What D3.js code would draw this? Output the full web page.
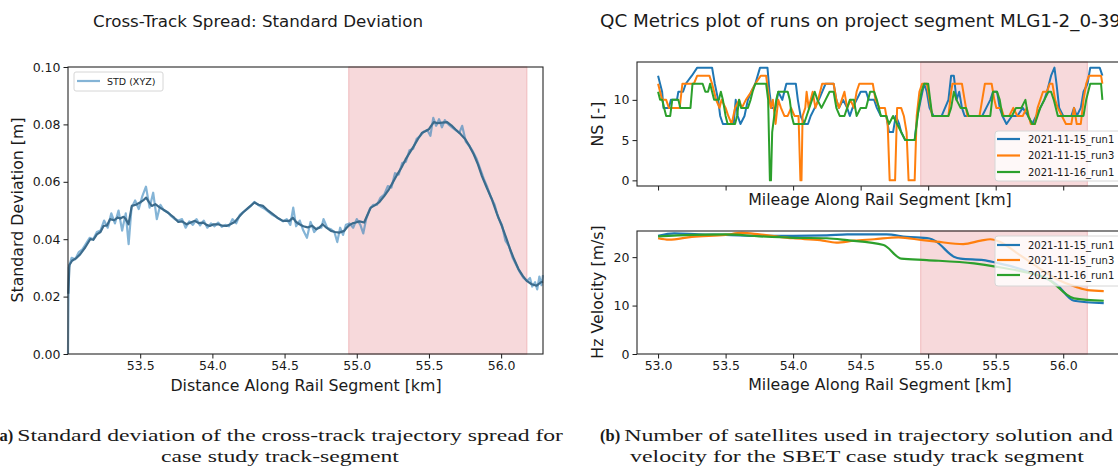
<!DOCTYPE html>
<html><head><meta charset="utf-8">
<script src="https://cdn.jsdelivr.net/npm/d3@7"></script>
<style>
body{margin:0;background:#fff;overflow:hidden}
svg{display:block}
text{fill:#1a1a1a}
text.sans{font-family:"DejaVu Sans",sans-serif}
text.serif{font-family:"Liberation Serif","DejaVu Serif",serif}
</style></head>
<body><svg id="c" width="1118" height="470"></svg>
<script>
// ---------------- DATA ----------------
// Left: cross-track STD (raw, light) [km, m]
const stdRaw = [[53.000,0.000],[53.005,0.030],[53.025,0.0335],[53.050,0.0330],[53.075,0.0355],[53.100,0.0365],[53.125,0.0385],[53.150,0.0405],[53.175,0.0400],[53.200,0.0425],[53.225,0.0430],[53.250,0.0465],[53.275,0.0440],[53.300,0.0490],[53.325,0.0455],[53.350,0.0500],[53.375,0.0430],[53.400,0.0490],[53.420,0.0383],[53.440,0.0510],[53.465,0.0535],[53.490,0.0505],[53.515,0.0550],[53.540,0.0583],[53.565,0.0510],[53.590,0.0562],[53.615,0.0470],[53.640,0.0520],[53.665,0.0500],[53.690,0.0495],[53.715,0.0480],[53.740,0.0470],[53.765,0.0465],[53.790,0.0470],[53.815,0.0440],[53.840,0.0462],[53.865,0.0450],[53.890,0.0470],[53.915,0.0448],[53.940,0.0465],[53.965,0.0440],[53.990,0.0455],[54.015,0.0445],[54.040,0.0458],[54.065,0.0443],[54.090,0.0450],[54.115,0.0445],[54.140,0.0470],[54.165,0.0455],[54.190,0.0485],[54.215,0.0495],[54.240,0.0505],[54.265,0.0515],[54.290,0.0530],[54.315,0.0520],[54.340,0.0512],[54.365,0.0505],[54.390,0.0495],[54.415,0.0485],[54.440,0.0478],[54.465,0.0470],[54.490,0.0462],[54.515,0.0470],[54.540,0.0450],[54.560,0.0510],[54.580,0.0445],[54.605,0.0465],[54.630,0.0430],[54.655,0.0405],[54.680,0.0460],[54.705,0.0425],[54.730,0.0440],[54.755,0.0440],[54.770,0.0470],[54.795,0.0440],[54.820,0.0435],[54.845,0.0425],[54.865,0.0390],[54.885,0.0440],[54.905,0.0415],[54.925,0.0450],[54.950,0.0455],[54.975,0.0440],[55.000,0.0470],[55.025,0.0450],[55.045,0.0420],[55.065,0.0470],[55.090,0.0505],[55.115,0.0520],[55.140,0.0520],[55.165,0.0545],[55.190,0.0555],[55.215,0.0585],[55.240,0.0580],[55.265,0.0630],[55.290,0.0625],[55.315,0.0665],[55.340,0.0670],[55.365,0.0710],[55.390,0.0715],[55.415,0.0750],[55.440,0.0760],[55.465,0.0775],[55.490,0.0780],[55.510,0.0760],[55.530,0.0823],[55.550,0.0795],[55.570,0.0818],[55.590,0.0790],[55.610,0.0815],[55.635,0.0800],[55.660,0.0790],[55.685,0.0780],[55.710,0.0770],[55.730,0.0795],[55.755,0.0740],[55.780,0.0725],[55.805,0.0705],[55.830,0.0680],[55.855,0.0645],[55.880,0.0610],[55.905,0.0580],[55.930,0.0545],[55.955,0.0520],[55.980,0.0475],[56.005,0.0450],[56.030,0.0395],[56.055,0.0375],[56.080,0.0335],[56.105,0.0310],[56.130,0.0285],[56.155,0.0265],[56.180,0.0255],[56.200,0.0265],[56.215,0.0235],[56.235,0.0250],[56.250,0.0225],[56.265,0.0270],[56.280,0.0240],[56.290,0.0275]];
// Left: smoothed STD (dark) [km, m]
const stdSmooth = [[53.002,0.0210],[53.010,0.0310],[53.028,0.0325],[53.060,0.0335],[53.085,0.0348],[53.120,0.0372],[53.154,0.0400],[53.175,0.0398],[53.200,0.0417],[53.225,0.0425],[53.246,0.0446],[53.270,0.0448],[53.292,0.0470],[53.320,0.0466],[53.345,0.0476],[53.361,0.0472],[53.385,0.0478],[53.400,0.0470],[53.419,0.0452],[53.442,0.0516],[53.470,0.0520],[53.499,0.0528],[53.520,0.0535],[53.541,0.0545],[53.560,0.0530],[53.580,0.0516],[53.605,0.0522],[53.637,0.0510],[53.670,0.0500],[53.706,0.0487],[53.735,0.0475],[53.764,0.0460],[53.790,0.0462],[53.821,0.0452],[53.850,0.0458],[53.879,0.0464],[53.905,0.0456],[53.936,0.0458],[53.960,0.0450],[53.982,0.0446],[54.010,0.0452],[54.040,0.0452],[54.070,0.0447],[54.097,0.0446],[54.125,0.0452],[54.155,0.0460],[54.185,0.0478],[54.212,0.0493],[54.250,0.0510],[54.292,0.0528],[54.320,0.0520],[54.350,0.0516],[54.385,0.0500],[54.419,0.0487],[54.450,0.0475],[54.488,0.0464],[54.534,0.0464],[54.557,0.0475],[54.580,0.0460],[54.603,0.0452],[54.630,0.0445],[54.660,0.0441],[54.690,0.0447],[54.718,0.0435],[54.740,0.0440],[54.763,0.0452],[54.790,0.0440],[54.821,0.0429],[54.850,0.0425],[54.879,0.0423],[54.913,0.0429],[54.930,0.0440],[54.948,0.0449],[54.970,0.0455],[54.993,0.0458],[55.020,0.0462],[55.051,0.0458],[55.070,0.0480],[55.097,0.0510],[55.125,0.0518],[55.154,0.0528],[55.190,0.0550],[55.223,0.0574],[55.250,0.0598],[55.281,0.0626],[55.310,0.0650],[55.338,0.0678],[55.365,0.0700],[55.396,0.0725],[55.425,0.0750],[55.453,0.0771],[55.475,0.0776],[55.499,0.0783],[55.515,0.0795],[55.534,0.0808],[55.560,0.0804],[55.591,0.0806],[55.626,0.0808],[55.655,0.0797],[55.683,0.0783],[55.720,0.0766],[55.752,0.0748],[55.780,0.0725],[55.810,0.0696],[55.840,0.0660],[55.867,0.0620],[55.900,0.0580],[55.936,0.0539],[55.970,0.0490],[56.005,0.0446],[56.035,0.0405],[56.062,0.0365],[56.090,0.0330],[56.120,0.0296],[56.150,0.0272],[56.177,0.0255],[56.212,0.0243],[56.246,0.0238],[56.276,0.0250],[56.290,0.0252]];
const stdXTicks = [53.5,54.0,54.5,55.0,55.5,56.0];
const stdYTicks = [0.00,0.02,0.04,0.06,0.08,0.10];
const shadeKm = [54.945,56.178];

// Right top: number of satellites [km, NS]
const nsRun1 = [[53.000,13],[53.030,11],[53.040,9],[53.080,9],[53.095,10],[53.140,10],[53.150,11],[53.185,11],[53.205,12],[53.250,13],[53.290,14],[53.400,14],[53.420,12],[53.445,10],[53.460,8],[53.480,7],[53.560,7],[53.575,10],[53.590,8],[53.610,7],[53.640,8],[53.665,10],[53.690,11],[53.720,12],[53.755,14],[53.810,14],[53.825,11],[53.840,9],[53.870,9],[53.890,11],[53.920,10],[53.950,12],[54.020,12],[54.035,10],[54.055,8],[54.085,7],[54.110,7],[54.130,8],[54.160,9],[54.190,10],[54.215,11],[54.240,12],[54.300,12],[54.320,10],[54.340,9],[54.370,10],[54.400,9],[54.420,8],[54.440,9],[54.470,10],[54.500,11],[54.540,11],[54.560,10],[54.600,10],[54.620,9],[54.650,8],[54.690,8],[54.710,6],[54.740,6],[54.760,8],[54.785,7],[54.800,6],[54.830,5],[54.900,5],[54.920,8],[54.945,10],[54.970,12],[54.990,11],[55.010,9],[55.040,8],[55.100,8],[55.150,10],[55.170,13],[55.190,13],[55.210,10],[55.230,11],[55.250,9],[55.270,8],[55.400,8],[55.430,9],[55.460,10],[55.480,11],[55.510,11],[55.530,9],[55.550,8],[55.580,7],[55.620,8],[55.660,8],[55.700,9],[55.740,8],[55.770,7],[55.800,8],[55.830,9],[55.860,10],[55.880,11],[55.910,13],[55.935,14],[55.950,12],[55.970,9],[56.000,8],[56.060,8],[56.080,9],[56.100,8],[56.130,9],[56.150,11],[56.180,12],[56.200,14],[56.270,14],[56.290,13]];
const nsRun3 = [[53.000,12],[53.015,11],[53.030,10],[53.060,10],[53.080,9],[53.160,9],[53.180,12],[53.265,12],[53.290,13],[53.380,13],[53.400,12],[53.430,10],[53.455,9],[53.470,10],[53.500,9],[53.520,8],[53.545,7],[53.570,9],[53.600,10],[53.620,9],[53.650,10],[53.690,11],[53.720,12],[53.760,13],[53.800,13],[53.815,11],[53.835,9],[53.850,10],[53.870,7],[53.890,10],[53.910,9],[53.935,8],[53.960,8],[53.985,9],[54.010,8],[54.040,8],[54.054,0],[54.062,0],[54.070,8],[54.090,9],[54.100,11],[54.115,9],[54.130,10],[54.145,11],[54.165,9],[54.185,10],[54.215,12],[54.300,12],[54.320,10],[54.340,9],[54.360,10],[54.380,11],[54.400,9],[54.425,10],[54.450,9],[54.470,11],[54.490,12],[54.590,12],[54.610,10],[54.640,9],[54.680,9],[54.700,7],[54.715,0],[54.755,0],[54.770,9],[54.800,9],[54.820,8],[54.840,6],[54.855,0],[54.900,0],[54.915,8],[54.935,11],[54.955,12],[54.990,12],[55.010,10],[55.030,8],[55.150,8],[55.170,11],[55.180,12],[55.250,12],[55.270,10],[55.290,8],[55.380,8],[55.400,10],[55.420,12],[55.470,12],[55.490,10],[55.505,9],[55.540,9],[55.560,8],[55.600,8],[55.630,9],[55.660,8],[55.700,8],[55.730,9],[55.760,7],[55.790,7],[55.810,9],[55.830,10],[55.850,11],[55.880,11],[55.900,12],[55.920,12],[55.940,10],[55.960,9],[55.990,8],[56.020,7],[56.060,7],[56.080,9],[56.100,7],[56.130,7],[56.150,10],[56.170,12],[56.190,13],[56.280,13],[56.290,12]];
const nsRun16 = [[53.000,11],[53.015,10],[53.030,10],[53.045,9],[53.060,8],[53.090,8],[53.105,10],[53.150,10],[53.165,9],[53.240,9],[53.255,12],[53.330,12],[53.350,11],[53.370,11],[53.385,12],[53.400,11],[53.415,10],[53.450,10],[53.465,11],[53.480,10],[53.500,8],[53.515,7],[53.570,7],[53.585,8],[53.600,10],[53.615,9],[53.665,9],[53.685,10],[53.700,11],[53.720,12],[53.800,12],[53.815,10],[53.828,0],[53.836,0],[53.845,6],[53.860,8],[53.875,10],[53.890,11],[53.960,11],[53.975,10],[53.990,8],[54.005,7],[54.080,7],[54.100,8],[54.120,9],[54.140,10],[54.160,11],[54.180,10],[54.210,9],[54.240,10],[54.270,11],[54.300,11],[54.320,9],[54.345,8],[54.380,8],[54.400,9],[54.420,10],[54.450,10],[54.470,8],[54.500,9],[54.540,9],[54.570,11],[54.600,11],[54.620,10],[54.650,8],[54.690,8],[54.710,7],[54.740,8],[54.770,7],[54.800,6],[54.830,5],[54.900,5],[54.930,9],[54.950,11],[54.970,12],[55.000,12],[55.015,10],[55.030,8],[55.150,8],[55.170,9],[55.190,11],[55.210,10],[55.240,9],[55.280,9],[55.300,8],[55.460,8],[55.480,11],[55.510,11],[55.530,10],[55.550,8],[55.620,8],[55.650,9],[55.690,9],[55.720,10],[55.740,8],[55.770,7],[55.790,7],[55.810,8],[55.830,9],[55.860,10],[55.890,11],[55.910,11],[55.930,10],[55.960,8],[56.150,8],[56.170,10],[56.185,11],[56.200,12],[56.280,12],[56.290,10]];
const nsYTicks = [0,5,10];

// Right bottom: horizontal velocity [km, m/s]
const velRun1 = [[53.00,24.4],[53.12,24.9],[53.30,24.7],[53.50,24.6],[53.75,24.4],[54.00,24.4],[54.25,24.5],[54.40,24.7],[54.69,24.7],[54.84,24.2],[55.01,23.85],[55.06,23.2],[55.19,20.1],[55.24,19.7],[55.41,19.4],[55.51,18.8],[55.63,18.0],[55.78,16.6],[55.95,14.4],[56.08,11.0],[56.30,10.5]];
const velRun3 = [[53.00,23.9],[53.08,23.6],[53.25,24.2],[53.50,24.6],[53.62,25.0],[53.75,24.7],[54.00,23.9],[54.20,23.5],[54.32,23.0],[54.45,23.4],[54.60,23.7],[54.78,24.1],[54.96,23.5],[55.06,23.2],[55.26,22.7],[55.39,23.4],[55.46,23.7],[55.53,23.2],[55.65,21.0],[55.78,18.5],[55.95,15.5],[56.10,13.8],[56.18,13.2],[56.30,13.0]];
const velRun16 = [[53.00,24.3],[53.25,24.6],[53.50,24.7],[53.75,24.3],[54.00,24.0],[54.25,23.9],[54.40,23.5],[54.67,22.5],[54.80,19.7],[54.99,19.4],[55.34,18.7],[55.51,18.0],[55.70,17.0],[55.88,15.6],[56.08,11.5],[56.30,11.0]];
const velYTicks = [0,10,20];
const mileTicks = [53.0,53.5,54.0,54.5,55.0,55.5,56.0];

const runNames = ["2021-11-15_run1","2021-11-15_run3","2021-11-16_run1"];
const runColors = ["#1f77b4","#ff7f0e","#2ca02c"];

// ---------------- DRAW ----------------
const svg = d3.select("#c");
const TICK = 12.5, LAB = 15.8, TIT = 16.7;

function txt(x,y,s,size){
  return svg.append("text").attr("class","sans").attr("x",x).attr("y",y).attr("font-size",size).text(s);
}
function styleAxis(g){
  g.select(".domain").remove();
  g.selectAll(".tick line").attr("stroke","#1a1a1a").attr("stroke-width",1);
  g.selectAll(".tick text").attr("class","sans").attr("font-size",TICK).attr("fill","#1a1a1a");
}
function frame(x0,y0,x1,y1){
  svg.append("rect").attr("x",x0).attr("y",y0).attr("width",x1-x0).attr("height",y1-y0)
    .attr("fill","none").attr("stroke","#262626").attr("stroke-width",1.1);
}
function shade(x,y,x0,x1){
  const r=y.range();
  svg.append("rect").attr("x",x(x0)).attr("y",r[1]).attr("width",x(x1)-x(x0)).attr("height",r[0]-r[1])
    .attr("fill","#f7d9db").attr("stroke","#f0babd").attr("stroke-width",1);
}

// ----- Left chart -----
const xL = d3.scaleLinear().domain([53.0,56.29]).range([68,543]);
const yL = d3.scaleLinear().domain([0,0.10]).range([354,67]);
shade(xL,yL,shadeKm[0],shadeKm[1]);
const lineL = d3.line().x(d=>xL(d[0])).y(d=>yL(d[1]));
svg.append("path").datum(stdRaw).attr("d",lineL).attr("fill","none")
  .attr("stroke","#1f77b4").attr("stroke-opacity",0.55).attr("stroke-width",2.2).attr("stroke-linejoin","round");
svg.append("path").datum(stdSmooth).attr("d",lineL).attr("fill","none")
  .attr("stroke","#3b6b8c").attr("stroke-width",2.2).attr("stroke-linejoin","round");
svg.append("g").attr("transform","translate(0,354)")
  .call(d3.axisBottom(xL).tickValues(stdXTicks).tickFormat(d3.format(".1f")).tickSize(4.5).tickPadding(3)).call(styleAxis);
svg.append("g").attr("transform","translate(68,0)")
  .call(d3.axisLeft(yL).tickValues(stdYTicks).tickFormat(d3.format(".2f")).tickSize(4.5).tickPadding(3)).call(styleAxis);
frame(68,67,543,354);
// legend
svg.append("rect").attr("x",74).attr("y",72).attr("width",89).attr("height",19).attr("rx",2)
  .attr("fill","#fff").attr("fill-opacity",0.8).attr("stroke","#d6d6d6");
svg.append("line").attr("x1",77).attr("x2",100).attr("y1",81).attr("y2",81)
  .attr("stroke","#1f77b4").attr("stroke-opacity",0.55).attr("stroke-width",2.2);
txt(107,84.5,"STD (XYZ)",9.5);
txt(258,27,"Cross-Track Spread: Standard Deviation",TIT).attr("text-anchor","middle");
txt(306,391,"Distance Along Rail Segment [km]",LAB).attr("text-anchor","middle");
txt(0,0,"Standard Deviation [m]",LAB).attr("text-anchor","middle").attr("transform","translate(23,210) rotate(-90)");

// ----- Right top -----
const xR = d3.scaleLinear().domain([52.844,56.45]).range([637,1124]);
const yN = d3.scaleLinear().domain([-0.7,14.7]).range([186,62]);
shade(xR,yN,shadeKm[0],shadeKm[1]);
const lineN = d3.line().x(d=>xR(d[0])).y(d=>yN(d[1]));
[nsRun1,nsRun3,nsRun16].forEach((s,i)=>{
  svg.append("path").datum(s).attr("d",lineN).attr("fill","none").attr("stroke",runColors[i])
    .attr("stroke-width",2).attr("stroke-linejoin","round");
});
svg.append("g").attr("transform","translate(0,186)")
  .call(d3.axisBottom(xR).tickValues(mileTicks).tickFormat("").tickSize(4.5)).call(styleAxis);
svg.append("g").attr("transform","translate(637,0)")
  .call(d3.axisLeft(yN).tickValues(nsYTicks).tickFormat(d3.format("d")).tickSize(4.5).tickPadding(3)).call(styleAxis);
frame(637,62,1124,186);
txt(880,205,"Mileage Along Rail Segment [km]",LAB).attr("text-anchor","middle");
txt(0,0,"NS [-]",LAB).attr("text-anchor","middle").attr("transform","translate(603,124) rotate(-90)");

// ----- Right bottom -----
const yV = d3.scaleLinear().domain([0,25.4]).range([354,231]);
shade(xR,yV,shadeKm[0],shadeKm[1]);
const lineV = d3.line().x(d=>xR(d[0])).y(d=>yV(d[1])).curve(d3.curveMonotoneX);
[velRun1,velRun3,velRun16].forEach((s,i)=>{
  svg.append("path").datum(s).attr("d",lineV).attr("fill","none").attr("stroke",runColors[i])
    .attr("stroke-width",2.2).attr("stroke-linejoin","round");
});
svg.append("g").attr("transform","translate(0,354)")
  .call(d3.axisBottom(xR).tickValues(mileTicks).tickFormat(d3.format(".1f")).tickSize(4.5).tickPadding(3)).call(styleAxis);
svg.append("g").attr("transform","translate(637,0)")
  .call(d3.axisLeft(yV).tickValues(velYTicks).tickFormat(d3.format("d")).tickSize(4.5).tickPadding(3)).call(styleAxis);
frame(637,231,1124,354);
txt(880,390,"Mileage Along Rail Segment [km]",LAB).attr("text-anchor","middle");
txt(0,0,"Hz Velocity [m/s]",LAB).attr("text-anchor","middle").attr("transform","translate(603,292) rotate(-90)");

// right legends
function legend(y0, ys){
  svg.append("rect").attr("x",995).attr("y",y0).attr("width",140).attr("height",50).attr("rx",3)
    .attr("fill","#fff").attr("fill-opacity",0.8).attr("stroke","#d6d6d6");
  runNames.forEach((n,i)=>{
    svg.append("line").attr("x1",997).attr("x2",1020).attr("y1",ys[i]).attr("y2",ys[i])
      .attr("stroke",runColors[i]).attr("stroke-width",2.2);
    txt(1028,ys[i]+3.6,n,10);
  });
}
legend(131,[139,155.5,172]);
legend(236,[245,260,275]);

txt(600,27,"QC Metrics plot of runs on project segment MLG1-2_0-39",17.2)
  .attr("textLength",521).attr("lengthAdjust","spacingAndGlyphs");

// ----- captions -----
const CAP = 16.5;
function serif(x,y,s){
  return svg.append("text").attr("class","serif").attr("x",x).attr("y",y).attr("font-size",CAP).text(s);
}
// line 1: bold label + text fitted between xs and xe; returns horizontal stretch factor
function capLine1(label, rest, xs, xe, y){
  const t = serif(xs,y,label).attr("font-weight","bold");
  const w = t.node().getComputedTextLength();
  const x2 = xs + w + 4;
  const r = serif(x2,y,rest);
  const nat = r.node().getComputedTextLength();
  r.attr("textLength",xe-x2).attr("lengthAdjust","spacingAndGlyphs");
  return (xe-x2)/nat;
}
// line 2: centred at cx with the same stretch as line 1
function capLine2(s, cx, y, k){
  const t = serif(cx,y,s).attr("text-anchor","middle");
  const nat = t.node().getComputedTextLength();
  t.attr("textLength",nat*k).attr("lengthAdjust","spacingAndGlyphs");
}
const kA = capLine1("(a)","Standard deviation of the cross-track trajectory spread for",-6,563,441);
capLine2("case study track-segment",280,462,kA);
const kB = capLine1("(b)","Number of satellites used in trajectory solution and",600,1113,441);
capLine2("velocity for the SBET case study track segment",857,462,kB);
</script></body></html>
